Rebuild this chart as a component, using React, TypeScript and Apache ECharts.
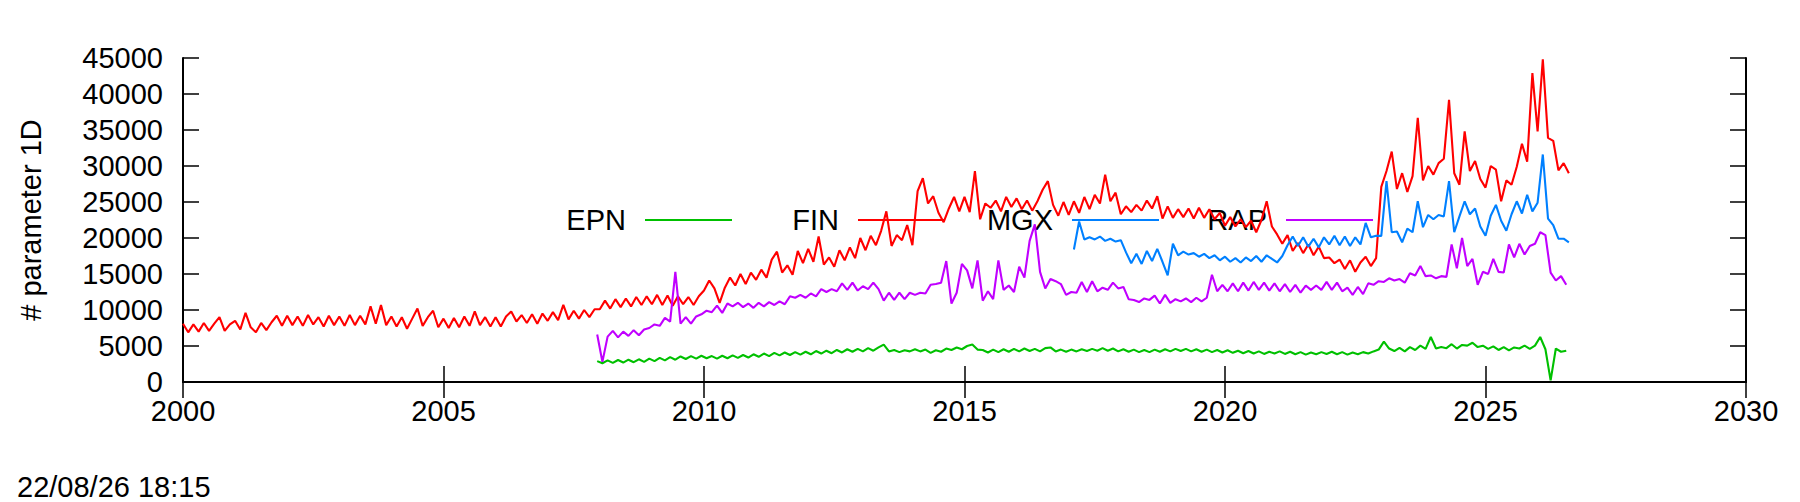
import React, { useEffect, useRef } from "react";
import * as echarts from "echarts";

const FONT = '"Liberation Sans", Arial, Helvetica, sans-serif';

const seriesNames = ["EPN", "FIN", "MGX", "RAP"];
const seriesColors = ["#00c000", "#ff0000", "#0080ff", "#c000ff"];

const xRange = [2000, 2030];
const xInterval = 5;
const yRange = [0, 45000];
const yInterval = 5000;
const yTitle = "# parameter 1D";
const stamp = "22/08/26 18:15";

const sampleStep = 0.1;

// FIN, one row per year, from 2000.0
const finStart = 2000.0;
const finValues = [
  8100, 6900, 8000, 7000, 8200, 7100, 8100, 9000, 7100, 8000,
  8500, 7300, 9600, 7600, 6900, 8200, 7200, 8300, 9200, 7800,
  9200, 7900, 9100, 7800, 9300, 8000, 9000, 7700, 9200, 7900,
  9100, 7800, 9300, 7900, 9200, 8000, 10500, 8100, 10700, 7900,
  9100, 7700, 9000, 7400, 8800, 10200, 7800, 9000, 9900, 7600,
  8800, 7500, 8900, 7600, 9100, 7800, 9800, 7900, 9000, 7700,
  9000, 7700, 9100, 9800, 8400, 9300, 8200, 9400, 8100, 9500,
  8500, 9700, 8600, 10700, 8700, 9900, 8800, 10000, 9000, 10100,
  10100, 11300, 10200, 11500, 10400, 11600, 10500, 11800, 10700, 11900,
  10800, 12100, 10700, 12000, 10600, 11900, 10800, 11800, 10700, 11900,
  12700, 14100, 13000, 11000, 13100, 14500, 13400, 15000, 13600, 15200,
  14200, 15600, 14500, 17000, 18100, 15200, 16200, 14900, 18200, 16500,
  18500, 16700, 20200, 16300, 17300, 16000, 18300, 16900, 18700, 17200,
  20000, 18300, 20300, 19000, 21000, 23700, 18900, 20400, 19700, 21800,
  19000, 26500, 28300, 24800, 25800, 23500, 22200, 24100, 25700, 23700,
  25700, 23600, 29300, 22600, 24800, 24200, 25200, 23700, 25700, 24300,
  25500, 24000, 25200, 23800, 25100, 26700, 27900, 24600, 23100, 25000,
  23200, 25100, 23500, 25700, 24000, 26000, 24800, 28800, 25100, 26300,
  23300, 24400, 23600, 24600, 23800, 25200, 24100, 25800, 22700, 24400,
  22800, 24000, 22900, 24100, 22700, 24200, 22800, 24000, 22600, 23500,
  21700, 22900, 21600, 22600, 21500, 22400, 20800, 22500, 25100, 21600,
  20500, 19200, 20400, 18200, 19300, 17900, 19100, 17600, 18800, 17200,
  17300, 16500, 17000, 15700, 16900, 15300, 16600, 17400, 16100, 17200,
  27100, 29300, 32000, 26800, 29000, 26400, 28600, 36700, 28000, 30000,
  28800, 30400, 31000, 39200, 29000, 27400, 34800, 29300, 30700, 28200,
  27000, 30000, 29500, 25100, 28000, 27400, 29900, 33100, 30600, 42900,
  34800, 44800, 33900, 33500, 29400, 30400, 29000,
];

// EPN, from 2007.95
const epnStart = 2007.95;
const epnValues = [
  2900, 2600, 3000, 2650, 3050, 2700, 3100, 2750, 3150, 2800,
  3250, 2900, 3350, 3000, 3450, 3100, 3550, 3200, 3600, 3250,
  3650, 3300, 3600, 3250, 3650, 3300, 3700, 3350, 3750, 3400,
  3850, 3500, 3950, 3600, 4050, 3700, 4100, 3750, 4150, 3800,
  4200, 3850, 4300, 3950, 4350, 4000, 4450, 4100, 4550, 4200,
  4600, 4250, 4700, 4350, 4800, 5200, 4250, 4450, 4150, 4400,
  4250, 4550, 4250, 4500, 4050, 4400, 4200, 4650, 4450, 4800,
  4550, 5000, 5200, 4500, 4450, 4100, 4500, 4150, 4550, 4200,
  4600, 4250, 4650, 4300, 4600, 4250, 4700, 4800, 4250, 4500,
  4200, 4500, 4250, 4550, 4300, 4600, 4350, 4700, 4350, 4650,
  4250, 4550, 4200, 4500, 4150, 4450, 4150, 4500, 4200, 4550,
  4250, 4600, 4300, 4600, 4250, 4550, 4200, 4500, 4150, 4450,
  4100, 4400, 4050, 4350, 4000, 4300, 3950, 4250, 3900, 4200,
  3950, 4250, 3900, 4200, 3850, 4150, 3800, 4100, 3850, 4150,
  3900, 4200, 3850, 4150, 3800, 4100, 3850, 4150, 3950, 4250,
  4500, 5600, 4650, 4300, 4750, 4250, 4850, 4450, 5050, 4600,
  6250, 4650, 4850, 4700, 5250, 4650, 5150, 5050, 5450, 4850,
  5050, 4600, 4950, 4450, 4850, 4400, 4800, 4650, 5050, 4600,
  5050, 6250, 4550, 230, 4650, 4200, 4350,
];

// MGX, from 2017.1
const mgxStart = 2017.1;
const mgxValues = [
  18400, 22300, 19800, 20100, 19800, 20200, 19600, 19900, 19500,
  19700, 18000, 16500, 17800, 16400, 18200, 16800, 18500, 16700, 14800,
  19200, 17600, 18100, 17700, 17900, 17400, 17800, 17200, 17600, 16900,
  17400, 16700, 17200, 16600, 17300, 16800, 17500, 16700, 17600, 17100,
  16600, 17500, 19000, 20200, 18900, 20100, 18800, 19900, 18700, 20100,
  19100, 20300, 19000, 20200, 18900, 20100, 19100, 22100, 20100, 20300,
  20300, 27900, 20800, 20900, 19400, 21300, 20800, 25100, 21500, 23200,
  22600, 23200, 23000, 27900, 20800, 23000, 25100, 23300, 24100, 21600,
  20300, 23100, 24600, 22400, 21000, 23300, 25100, 23400, 26000, 23700,
  24900, 31600, 22700, 21800, 19900, 19900, 19400,
];

// RAP, from 2007.95
const rapStart = 2007.95;
const rapValues = [
  6600, 2800, 6300, 7100, 6200, 7000, 6400, 7200, 6500, 7300,
  7500, 8000, 7800, 8900, 8400, 15300, 8100, 9000, 8100, 9100,
  9400, 9900, 9700, 10600, 9600, 10900, 10500, 11000, 10400, 10900,
  10300, 11000, 10500, 11100, 10700, 11200, 10800, 11900, 11700, 12100,
  11700, 12300, 11900, 12900, 12500, 12900, 12600, 13700, 12800, 13800,
  12700, 13300, 12900, 13800, 12900, 11300, 12400, 11400, 12400, 11500,
  12400, 12100, 12400, 12300, 13500, 13600, 13800, 16800, 10900, 12400,
  16400, 15500, 13000, 16900, 11300, 12600, 11500, 16900, 12800, 13400,
  12500, 16000, 14500, 19600, 21900, 15300, 13000, 14300, 14000, 13600,
  12100, 12500, 12400, 13900, 12500, 14000, 12600, 13100, 12800, 13800,
  13000, 13200, 11500, 11400, 11100, 11600, 11400, 12000, 10900, 12100,
  11000, 11500, 11200, 11600, 11100, 11700, 11200, 11700, 14900, 12600,
  13500, 12600, 13700, 12600, 13800, 12700, 13900, 12800, 13800, 12700,
  13700, 12600, 13600, 12500, 13500, 12400, 13400, 12800, 13400, 12800,
  13900, 12800, 13800, 12600, 13100, 12100, 13200, 12200, 13700, 13500,
  14000, 13900, 14400, 14100, 14300, 13800, 15100, 14800, 16100, 14700,
  14800, 14400, 14700, 14600, 19100, 15800, 20000, 16100, 17100, 13500,
  15300, 15000, 17100, 15300, 15200, 19100, 17300, 19200, 17700, 18900,
  19200, 20800, 20400, 15200, 14100, 14700, 13500,
];

const seriesStarts = [epnStart, finStart, mgxStart, rapStart];
const seriesValues = [epnValues, finValues, mgxValues, rapValues];

// legend layout (pixels)
const legendTextRight = [626, 839, 1053, 1267];
const legendLineLen = 87;
const legendLineGap = 19;
const legendY = 220;

function pairs(start: number, values: number[]) {
  return values.map((v, i) => [Math.round((start + i * sampleStep) * 1000) / 1000, v]);
}

export default function App() {
  const ref = useRef<HTMLDivElement>(null);
  useEffect(() => {
    if (!ref.current) return;
    const chart = echarts.init(ref.current, null, { renderer: "svg" });
    const tickStyle = { color: "#000", width: 1.5 };
    const lineStyle = { color: "#000", width: 2 };
    const labelStyle = { color: "#000", fontSize: 29, fontFamily: FONT };
    const baseX = {
      type: "value" as const,
      min: xRange[0],
      max: xRange[1],
      interval: xInterval,
      splitLine: { show: false },
      axisLine: { show: true, lineStyle },
      axisTick: { show: true, inside: true, length: 16, lineStyle: tickStyle },
    };
    const baseY = {
      type: "value" as const,
      min: yRange[0],
      max: yRange[1],
      interval: yInterval,
      splitLine: { show: false },
      axisLine: { show: true, lineStyle },
      axisTick: { show: true, inside: true, length: 16, lineStyle: tickStyle },
    };
    const legendEls: any[] = [];
    seriesNames.forEach((name, i) => {
      legendEls.push({
        type: "text",
        z: 0,
        x: legendTextRight[i],
        y: legendY,
        style: {
          text: name,
          fill: "#000",
          font: `29px ${FONT}`,
          align: "right",
          verticalAlign: "middle",
        },
      });
      const x1 = legendTextRight[i] + legendLineGap;
      legendEls.push({
        type: "line",
        z: 0,
        shape: { x1, y1: legendY, x2: x1 + legendLineLen, y2: legendY },
        style: { stroke: seriesColors[i], lineWidth: 2 },
      });
    });
    chart.setOption({
      animation: false,
      backgroundColor: "#fff",
      grid: { left: 183, right: 54, top: 58, bottom: 120, show: false },
      xAxis: [
        {
          ...baseX,
          position: "bottom",
          axisLabel: { ...labelStyle, margin: 14, formatter: (v: number) => String(v) },
        },
        { ...baseX, position: "top", axisLabel: { show: false } },
      ],
      yAxis: [
        {
          ...baseY,
          position: "left",
          axisLabel: { ...labelStyle, margin: 20, formatter: (v: number) => String(v) },
        },
        { ...baseY, position: "right", axisLabel: { show: false } },
      ],
      graphic: [
        ...legendEls,
        {
          type: "text",
          z: 0,
          x: 31,
          y: 220,
          rotation: Math.PI / 2,
          style: {
            text: yTitle,
            fill: "#000",
            font: `29px ${FONT}`,
            align: "center",
            verticalAlign: "middle",
          },
        },
        {
          type: "text",
          z: 0,
          x: 17,
          y: 487,
          style: {
            text: stamp,
            fill: "#000",
            font: `29px ${FONT}`,
            align: "left",
            verticalAlign: "middle",
          },
        },
      ],
      series: seriesNames.map((name, i) => ({
        name,
        type: "line",
        xAxisIndex: 0,
        yAxisIndex: 0,
        showSymbol: false,
        symbol: "none",
        z: 3,
        lineStyle: { color: seriesColors[i], width: 2.1 },
        itemStyle: { color: seriesColors[i] },
        data: pairs(seriesStarts[i], seriesValues[i]),
      })),
    });
    return () => chart.dispose();
  }, []);
  return (
    <div
      ref={ref}
      style={{ position: "fixed", left: 0, top: 0, width: 1800, height: 502, background: "#fff" }}
    />
  );
}
